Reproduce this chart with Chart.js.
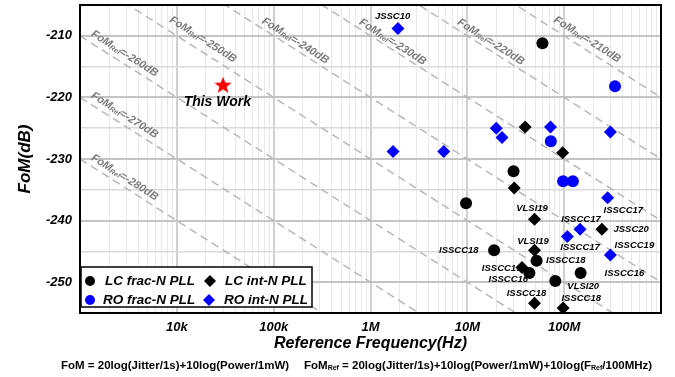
<!DOCTYPE html>
<html>
<head>
<meta charset="utf-8">
<script src="https://cdn.jsdelivr.net/npm/chart.js@4.4.1/dist/chart.umd.min.js"></script>
<style>
  html, body { margin: 0; padding: 0; background: #fff; }
  #wrap { width: 675px; height: 377px; }
</style>
</head>
<body>
<div id="wrap"><canvas id="chart"></canvas></div>
<script>
const FONT = '"Liberation Sans", Arial, Helvetica, sans-serif';

// This work
const thisWorkX = [30e3];
const thisWorkY = [-218.0];

// LC frac-N PLL (black circles)
const lcFracX = [59.6e6, 30e6, 9.7e6, 18.9e6, 51.9e6, 43.7e6, 148e6, 81e6];
const lcFracY = [-211.2, -232.0, -237.2, -244.8, -246.5, -248.5, -248.5, -249.8];

// LC int-N PLL (black diamonds)
const lcIntX = [39.5e6, 96.4e6, 30.5e6, 49.4e6, 245e6, 49.4e6, 36.7e6, 49.4e6, 97.5e6];
const lcIntY = [-224.8, -229.0, -234.7, -239.8, -241.4, -244.8, -247.6, -253.4, -254.2];

// RO frac-N PLL (blue circles)
const roFracX = [335e6, 72.8e6, 97.5e6, 123e6];
const roFracY = [-218.2, -227.1, -233.6, -233.6];

// RO int-N PLL (blue diamonds)
const roIntX = [1.92e6, 19.9e6, 22.8e6, 72.3e6, 300e6, 1.71e6, 5.71e6, 281e6, 146e6, 108e6, 300e6];
const roIntY = [-208.8, -225.0, -226.5, -224.8, -225.6, -228.8, -228.8, -236.3, -241.4, -242.6, -245.6];

// FoMRef reference lines: FoM at 1 kHz and at 1 GHz
const refLevels = [-280, -270, -260, -250, -240, -230, -220, -210];
const refAt1k   = [-230, -220, -210, -200, -190, -180, -170, -160];
const refAt1G   = [-290, -280, -270, -260, -250, -240, -230, -220];
const refLabelX = [2.89e3, 2.89e3, 2.89e3, 18.6e3, 167e3, 1.69e6, 17.5e6, 173e6];
const refLabelY = [-233.0, -222.9, -212.9, -210.6, -210.8, -211.0, -211.0, -210.6];

// paper labels next to the points
const ptLabelText = ['JSSC10', 'VLSI19', 'ISSCC17', 'ISSCC17', 'JSSC20', 'VLSI19', 'ISSCC17', 'ISSCC19',
                     'ISSCC18', 'ISSCC18', 'ISSCC19', 'ISSCC16', 'ISSCC16', 'VLSI20', 'ISSCC18', 'ISSCC18'];
const ptLabelX = [1.69e6, 46.6e6, 408e6, 149e6, 492e6, 47.7e6, 146e6, 531e6,
                  8.17e6, 104e6, 22.6e6, 26.5e6, 419e6, 157e6, 40.8e6, 150e6];
const ptLabelY = [-206.9, -238.0, -238.3, -239.8, -241.5, -243.3, -244.3, -244.1,
                  -244.9, -246.5, -247.7, -249.5, -248.6, -250.6, -251.8, -252.6];

// axis ticks
const xTickLabels = { 1e4: '10k', 1e5: '100k', 1e6: '1M', 1e7: '10M', 1e8: '100M' };
const legendNames = ['LC frac-N PLL', 'LC int-N PLL', 'RO frac-N PLL', 'RO int-N PLL'];

const BLUE = '#0000ff';
const pts = (xs, ys) => xs.map((x, i) => ({ x: x, y: ys[i] }));

// red filled star as point image
const starImg = document.createElement('canvas');
starImg.width = 20; starImg.height = 20;
(function () {
  const c = starImg.getContext('2d');
  c.fillStyle = '#ff0000';
  c.beginPath();
  for (let i = 0; i < 10; i++) {
    const r = i % 2 === 0 ? 9 : 3.8;
    const a = -Math.PI / 2 + i * Math.PI / 5;
    c.lineTo(10 + r * Math.cos(a), 10.5 + r * Math.sin(a));
  }
  c.closePath();
  c.fill();
})();

function drawRich(ctx, parts, x, y) {
  parts.forEach(p => {
    ctx.font = p.font;
    ctx.fillText(p.t, x, y + (p.dy || 0));
    x += ctx.measureText(p.t).width;
  });
}
function richWidth(ctx, parts) {
  let w = 0;
  parts.forEach(p => { ctx.font = p.font; w += ctx.measureText(p.t).width; });
  return w;
}

const overlay = {
  id: 'overlay',
  afterDatasetsDraw(chart) {
    const ctx = chart.ctx;
    const xs = chart.scales.x, ys = chart.scales.y;
    const area = chart.chartArea;

    // FoMRef labels along the dashed lines
    ctx.save();
    ctx.beginPath();
    ctx.rect(area.left, area.top, area.right - area.left, area.bottom - area.top);
    ctx.clip();
    ctx.fillStyle = '#7c7c7c';
    ctx.textBaseline = 'middle';
    refLevels.forEach((lvl, i) => {
      const x1 = xs.getPixelForValue(1e3), y1 = ys.getPixelForValue(refAt1k[i]);
      const x2 = xs.getPixelForValue(1e9), y2 = ys.getPixelForValue(refAt1G[i]);
      const ang = Math.atan2(y2 - y1, x2 - x1);
      const parts = [
        { t: 'FoM', font: 'italic bold 11px ' + FONT },
        { t: 'Ref', font: 'italic bold 7px ' + FONT, dy: 2 },
        { t: '=' + lvl + 'dB', font: 'italic bold 11px ' + FONT }
      ];
      const w = richWidth(ctx, parts);
      ctx.save();
      ctx.translate(xs.getPixelForValue(refLabelX[i]), ys.getPixelForValue(refLabelY[i]));
      ctx.rotate(ang);
      drawRich(ctx, parts, -w / 2, 0);
      ctx.restore();
    });
    ctx.restore();

    // point labels
    ctx.save();
    ctx.fillStyle = '#000';
    ctx.textAlign = 'center';
    ctx.textBaseline = 'middle';
    ctx.font = 'italic bold 9.5px ' + FONT;
    ptLabelText.forEach((t, i) => {
      ctx.fillText(t, xs.getPixelForValue(ptLabelX[i]), ys.getPixelForValue(ptLabelY[i]));
    });
    ctx.font = 'italic bold 14px ' + FONT;
    ctx.fillText('This Work', xs.getPixelForValue(26.2e3), ys.getPixelForValue(-220.7));
    ctx.restore();

    // plot frame
    ctx.save();
    ctx.strokeStyle = '#000';
    ctx.lineWidth = 2;
    ctx.strokeRect(area.left, area.top, area.right - area.left, area.bottom - area.top);
    ctx.restore();

    // legend box
    ctx.save();
    ctx.fillStyle = '#fff';
    ctx.fillRect(81, 267, 231, 40);
    ctx.strokeStyle = '#000';
    ctx.lineWidth = 1.5;
    ctx.strokeRect(81, 267, 231, 40);
    const rows = [281, 300];
    const marks = [
      { x: 90, y: rows[0], shape: 'circle', color: '#000', tx: 105 },
      { x: 210, y: rows[0], shape: 'diamond', color: '#000', tx: 225 },
      { x: 90, y: rows[1], shape: 'circle', color: BLUE, tx: 103 },
      { x: 209, y: rows[1], shape: 'diamond', color: BLUE, tx: 224 }
    ];
    marks.forEach((m, i) => {
      ctx.fillStyle = m.color;
      ctx.beginPath();
      if (m.shape === 'circle') {
        ctx.arc(m.x, m.y, 5, 0, Math.PI * 2);
      } else {
        ctx.moveTo(m.x, m.y - 6); ctx.lineTo(m.x + 6, m.y);
        ctx.lineTo(m.x, m.y + 6); ctx.lineTo(m.x - 6, m.y);
        ctx.closePath();
      }
      ctx.fill();
      ctx.fillStyle = '#000';
      ctx.font = 'italic bold 13.5px ' + FONT;
      ctx.textBaseline = 'middle';
      ctx.fillText(legendNames[i], m.tx, m.y + 0.5);
    });
    ctx.restore();

    // formulas under the chart
    ctx.save();
    ctx.fillStyle = '#000';
    ctx.textBaseline = 'alphabetic';
    const big = 'bold 11.5px ' + FONT, small = 'bold 7px ' + FONT;
    drawRich(ctx, [{ t: 'FoM = 20log(Jitter/1s)+10log(Power/1mW)', font: big }], 61, 369);
    drawRich(ctx, [
      { t: 'FoM', font: big },
      { t: 'Ref', font: small, dy: 1 },
      { t: ' = 20log(Jitter/1s)+10log(Power/1mW)+10log(F', font: big },
      { t: 'Ref', font: small, dy: 1 },
      { t: '/100MHz)', font: big }
    ], 304, 369);
    ctx.restore();
  }
};

const xTickValues = [];
for (let e = 3; e < 9; e++) {
  for (let m = 1; m < 10; m++) xTickValues.push(m * Math.pow(10, e));
}
xTickValues.push(1e9);
const isDecade = v => Math.abs(Math.log10(v) - Math.round(Math.log10(v))) < 1e-9;

const refDatasets = refLevels.map((lvl, i) => ({
  type: 'line',
  data: [{ x: 1e3, y: refAt1k[i] }, { x: 1e9, y: refAt1G[i] }],
  borderColor: '#b8b8b8',
  borderWidth: 1.5,
  borderDash: [8, 5],
  pointRadius: 0,
  fill: false
}));

new Chart(document.getElementById('chart'), {
  type: 'scatter',
  data: {
    datasets: [
      { data: pts(thisWorkX, thisWorkY), pointStyle: starImg, pointRadius: 9, clip: false },
      { data: pts(lcFracX, lcFracY), pointStyle: 'circle', pointRadius: 6, backgroundColor: '#000', borderWidth: 0, clip: false },
      { data: pts(lcIntX, lcIntY), pointStyle: 'rectRot', pointRadius: 6.5, backgroundColor: '#000', borderWidth: 0, clip: false },
      { data: pts(roFracX, roFracY), pointStyle: 'circle', pointRadius: 6, backgroundColor: BLUE, borderWidth: 0, clip: false },
      { data: pts(roIntX, roIntY), pointStyle: 'rectRot', pointRadius: 6.5, backgroundColor: BLUE, borderWidth: 0, clip: false },
      ...refDatasets
    ]
  },
  options: {
    responsive: true,
    maintainAspectRatio: false,
    animation: false,
    devicePixelRatio: 1,
    layout: { autoPadding: false, padding: { left: 0, right: 14, top: 5, bottom: 0 } },
    plugins: { legend: { display: false }, tooltip: { enabled: false } },
    scales: {
      x: {
        type: 'logarithmic',
        min: 1e3,
        max: 1e9,
        afterBuildTicks: s => { s.ticks = xTickValues.map(v => ({ value: v })); },
        afterFit: s => { s.height = 64; s.paddingLeft = 0; s.paddingRight = 0; },
        border: { display: false },
        grid: {
          drawTicks: false,
          color: c => isDecade(c.tick.value) ? '#d0d0d0' : '#e8e8e8',
          lineWidth: c => isDecade(c.tick.value) ? 2 : 1
        },
        ticks: {
          autoSkip: false,
          maxRotation: 0,
          padding: 7,
          color: '#000',
          font: { family: FONT, size: 13, style: 'italic', weight: 'bold' },
          callback: v => xTickLabels[v] || ''
        },
        title: {
          display: true,
          text: 'Reference Frequency(Hz)',
          color: '#000',
          font: { family: FONT, size: 16, style: 'italic', weight: 'bold' },
          padding: { top: 0, bottom: 24 }
        }
      },
      y: {
        min: -255,
        max: -205,
        afterFit: s => { s.width = 80; s.paddingTop = 0; s.paddingBottom = 0; },
        border: { display: false },
        grid: {
          drawTicks: false,
          color: c => c.tick.value % 10 === 0 ? '#c4c4c4' : '#dadada',
          lineWidth: c => c.tick.value % 10 === 0 ? 2 : 1.5
        },
        ticks: {
          stepSize: 5,
          padding: 8,
          color: '#000',
          font: { family: FONT, size: 13, style: 'italic', weight: 'bold' },
          callback: v => v % 10 === 0 ? String(v) : ''
        },
        title: {
          display: true,
          text: 'FoM(dB)',
          color: '#000',
          font: { family: FONT, size: 17, style: 'italic', weight: 'bold' },
          padding: { top: 15, bottom: 0 }
        }
      }
    }
  },
  plugins: [overlay]
});
</script>
</body>
</html>
